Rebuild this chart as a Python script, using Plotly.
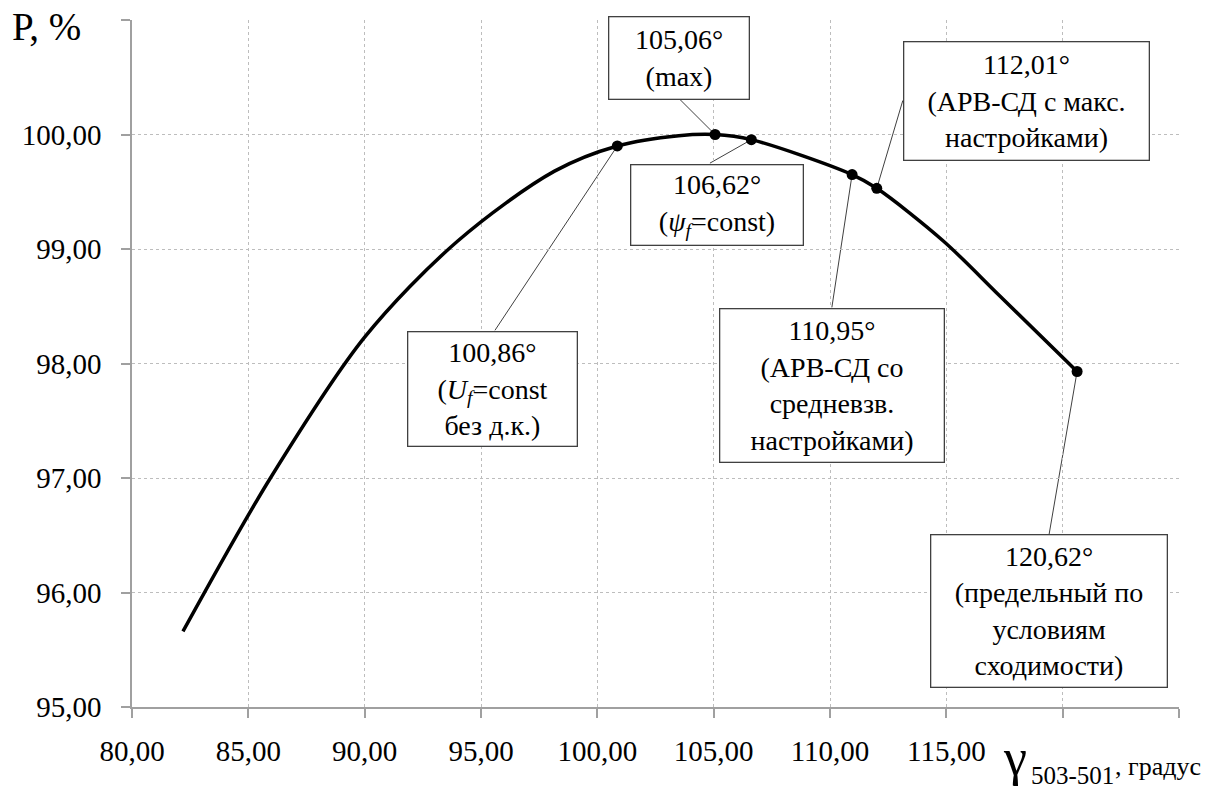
import plotly.graph_objects as go

# Power transfer P (%) versus angle gamma_503-501 (degrees)
curve_gamma = [82.19, 85.95, 90.0, 94.0, 98.16, 103.5, 114.87, 117.3]
curve_p = [95.66, 97.00, 98.23, 99.07, 99.68, 99.99, 99.07, 98.59]

# Characteristic operating points
point_gamma = [100.86, 105.06, 106.62, 110.95, 112.01, 120.62]
point_p = [99.90, 100.00, 99.955, 99.65, 99.53, 97.93]
point_text = [
    "100,86°<br>(<i>U</i><sub><i>f</i></sub>=const<br>без д.к.)",
    "105,06°<br>(max)",
    "106,62°<br>(<i>ψ</i><sub><i>f</i></sub>=const)",
    "110,95°<br>(АРВ-СД со<br>средневзв.<br>настройками)",
    "112,01°<br>(АРВ-СД с макс.<br>настройками)",
    "120,62°<br>(предельный по<br>условиям<br>сходимости)",
]

x_ticks = [80, 85, 90, 95, 100, 105, 110, 115, 120, 125]
x_ticktext = ["80,00", "85,00", "90,00", "95,00", "100,00", "105,00", "110,00", "115,00", "", ""]
y_ticks = [95, 96, 97, 98, 99, 100, 101]
y_ticktext = ["95,00", "96,00", "97,00", "98,00", "99,00", "100,00", ""]

FONT = "Liberation Serif, Times New Roman, serif"

pairs = sorted(zip(curve_gamma + point_gamma, curve_p + point_p))
line_x = [a for a, _ in pairs]
line_y = [b for _, b in pairs]

fig = go.Figure()
fig.add_trace(go.Scatter(
    x=line_x, y=line_y, mode="lines",
    line=dict(color="black", width=3.5, shape="spline", smoothing=0.9),
    hoverinfo="skip", showlegend=False,
))
fig.add_trace(go.Scatter(
    x=point_gamma, y=point_p, mode="markers",
    marker=dict(color="black", size=11),
    showlegend=False,
))

# Callout boxes: (box centre x, y), (leader start x, y), box width, height in px
boxes = [
    ((95.49, 97.78), (95.60, 98.29), 171, 116),
    ((103.51, 100.67), (103.55, 100.306), 142, 84),
    ((105.14, 99.38), (104.84, 99.75), 174, 82),
    ((110.10, 97.81), (110.08, 98.49), 226, 155),
    ((118.44, 100.29), (113.13, 100.297), 247, 120),
    ((119.41, 95.84), (119.41, 96.50), 238, 154),
]

bpad = 3
bw = 1.3
for i, ((cx, cy), (lx, ly), w, h) in enumerate(boxes):
    fig.add_shape(
        type="line", xref="x", yref="y",
        x0=lx, y0=ly, x1=point_gamma[i], y1=point_p[i],
        line=dict(color="#404040", width=1), layer="below",
    )
    fig.add_annotation(
        x=cx, y=cy, xref="x", yref="y", text=point_text[i],
        showarrow=False, align="center", valign="middle",
        width=w - 2 * bpad - 2 * bw, height=h - 2 * bpad - 2 * bw,
        bgcolor="white", bordercolor="#404040", borderwidth=bw, borderpad=bpad,
        font=dict(family=FONT, size=28, color="black"),
    )

W, H = 1229, 792
ML, MR, MT, MB = 132, 50, 20, 85
pw, ph = W - ML - MR, H - MT - MB


def px_to_paper(px, py):
    return (px - ML) / pw, 1 - (py - MT) / ph


# Axis titles, positioned in pixels
titles = [
    ("P, %", 10, 26, 39),
    ("γ", 1001, 757, 52),
    ("503-501", 1029, 775, 25),
    (", градус", 1113, 766, 26),
]
for text, px, py, size in titles:
    ax_, ay_ = px_to_paper(px, py)
    fig.add_annotation(
        x=ax_, y=ay_, xref="paper", yref="paper", text=text,
        showarrow=False, xanchor="left", yanchor="middle",
        font=dict(family=FONT, size=size, color="black"),
    )

axis_common = dict(
    showline=True, linecolor="#a0a0a0", linewidth=1.5,
    ticks="outside", ticklen=9, tickwidth=1.5, tickcolor="#a0a0a0",
    showgrid=True, gridcolor="#bdbdbd", gridwidth=1, griddash="dot",
    zeroline=False, mirror=False, automargin=False,
    tickfont=dict(family=FONT, size=29, color="black"),
)

fig.update_xaxes(
    range=[80, 125], tickmode="array", tickvals=x_ticks, ticktext=x_ticktext,
    ticklabelstandoff=8, **axis_common,
)
fig.update_yaxes(
    range=[95, 101], tickmode="array", tickvals=y_ticks, ticktext=y_ticktext,
    ticklabelstandoff=14, **axis_common,
)

fig.update_layout(
    width=W, height=H,
    margin=dict(l=ML, r=MR, t=MT, b=MB),
    plot_bgcolor="white", paper_bgcolor="white",
    font=dict(family=FONT, color="black"),
)

fig.write_html("out.html")
